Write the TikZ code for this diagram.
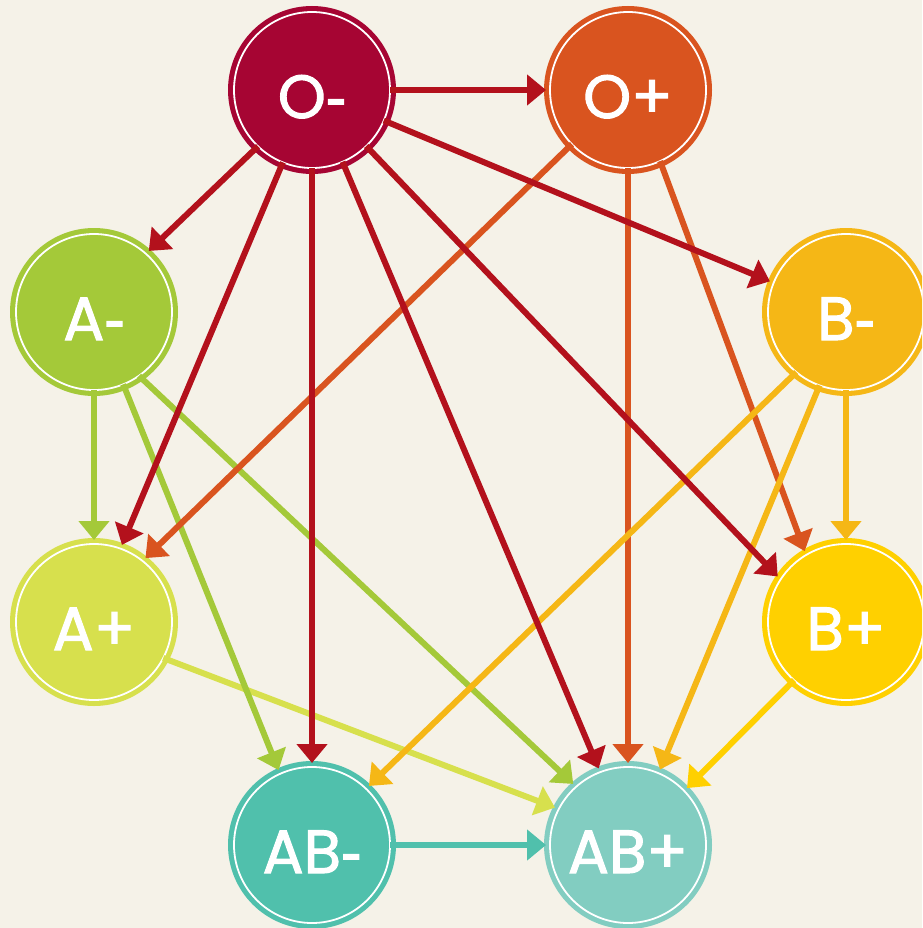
\documentclass[tikz,border=0pt]{standalone}
\usepackage{fontspec}
\setmainfont{Poppins}
\newfontfamily\labfont{Poppins}[FakeBold=1.7]
\newfontfamily\dashfont{Liberation Sans}[FakeBold=2]
\newcommand{\hy}{{\dashfont-}}
\usetikzlibrary{arrows.meta}
\definecolor{bg}{HTML}{F5F2E8}
\definecolor{cOm}{HTML}{A60533}
\definecolor{eOm}{HTML}{B3111C}
\definecolor{cOp}{HTML}{D9541F}
\definecolor{cAm}{HTML}{A4C939}
\definecolor{cBm}{HTML}{F5B716}
\definecolor{cAp}{HTML}{D7E04D}
\definecolor{cBp}{HTML}{FFD000}
\definecolor{cABm}{HTML}{50C0AC}
\definecolor{cABp}{HTML}{82CDC1}
\tikzset{
  blood/.style={circle, minimum size=168pt, inner sep=0pt, outer sep=0pt,
    fill=#1, text=white, font=\labfont\fontsize{61pt}{61pt}\selectfont,
    text height=56pt, text depth=0pt,
    path picture={\draw[white, line width=1.8pt] (path picture bounding box.center) circle (78pt);}},
  link/.style={draw=#1, line width=6pt, -{Triangle[length=19pt,width=30pt]},
    shorten <=-6pt, shorten >=-2pt}
}
\begin{document}
\begin{tikzpicture}[x=1pt,y=-1pt]
\fill[bg] (0,0) rectangle (922,928);
\useasboundingbox (0,0) rectangle (922,928);
\clip (0,0) rectangle (922,928);
\node[blood=cOm] (om) at (312,90) {O\hy};
\node[blood=cOp] (op) at (628,90) {O+};
\node[blood=cAm] (am) at (94,312) {A\hy};
\node[blood=cBm] (bm) at (846,312) {B\hy};
\node[blood=cAp] (ap) at (94,622) {A+};
\node[blood=cBp] (bp) at (846,622) {B+};
\node[blood=cABm] (abm) at (312,845) {AB\hy};
\node[blood=cABp] (abp) at (628,845) {AB+};
% A+, B+, AB-
\draw[link=cAp] (ap.333) -- (abp.153);
\draw[link=cBp] (bp.228) -- (abp.44);
\draw[link=cABm] (abm.0) -- (abp.180);
% A-
\draw[link=cAm] (am.270) -- (ap.90);
\draw[link=cAm] (am.292) -- (abm.114);
\draw[link=cAm] (am.306) -- (abp.132);
% O+
\draw[link=cOp] (op.224) -- (ap.51);
\draw[link=cOp] (op.270) -- (abp.90);
\draw[link=cOp] (op.294) -- (bp.120);
% B-
\draw[link=cBm] (bm.270) -- (bp.90);
\draw[link=cBm] (bm.230) -- (abm.46);
\draw[link=cBm] (bm.250) -- (abp.67);
% O-
\draw[link=eOm] (om.0) -- (op.180);
\draw[link=eOm] (om.226) -- (am.48);
\draw[link=eOm] (om.248) -- (ap.70);
\draw[link=eOm] (om.270) -- (abm.90);
\draw[link=eOm] (om.293) -- (abp.111);
\draw[link=eOm] (om.314) -- (bp.146);
\draw[link=eOm] (om.337) -- (bm.158);
\end{tikzpicture}
\end{document}
